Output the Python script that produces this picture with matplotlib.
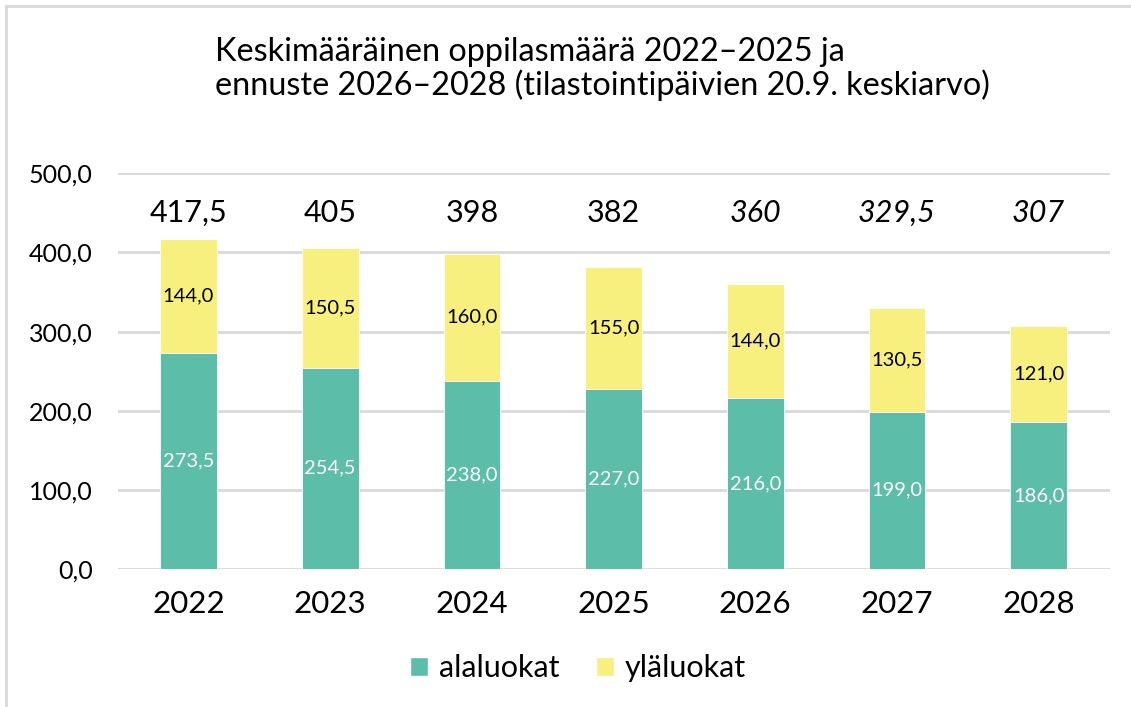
import matplotlib.pyplot as plt
from matplotlib.lines import Line2D
from matplotlib.patches import Patch

plt.rcParams['font.family'] = ['Lato', 'DejaVu Sans']

# Data
years = ['2022', '2023', '2024', '2025', '2026', '2027', '2028']
alaluokat = [273.5, 254.5, 238.0, 227.0, 216.0, 199.0, 186.0]
ylaluokat = [144.0, 150.5, 160.0, 155.0, 144.0, 130.5, 121.0]
forecast = [False, False, False, False, True, True, True]

teal = '#5CBDA8'
yellow = '#F8F07E'
grid_gray = '#D9D9D9'


def fi(v, dec=True):
    # Finnish number format with comma
    s = f"{v:.1f}" if dec else f"{v:g}"
    return s.replace('.', ',')


fig = plt.figure(figsize=(11.31, 7.07), dpi=100)
ax = fig.add_axes([0.104, 0.195, 0.877, 0.560])

x = range(len(years))
ax.bar(x, alaluokat, width=0.4, color=teal, edgecolor='white', linewidth=0.6, zorder=3)
ax.bar(x, ylaluokat, width=0.4, bottom=alaluokat, color=yellow, edgecolor='white',
       linewidth=0.6, zorder=3)

for i in x:
    ax.text(i, alaluokat[i] / 2, fi(alaluokat[i]), ha='center', va='center',
            fontsize=14.5, color='white', zorder=4)
    ax.text(i, alaluokat[i] + ylaluokat[i] / 2, fi(ylaluokat[i]), ha='center', va='center',
            fontsize=14.5, color='black', zorder=4)
    total = alaluokat[i] + ylaluokat[i]
    ax.text(i, 450, fi(total, dec=False), ha='center', va='center', fontsize=22,
            style='italic' if forecast[i] else 'normal', color='black', zorder=4)

ax.set_ylim(0, 500)
ax.set_xlim(-0.5, len(years) - 0.5)
ax.set_yticks([0, 100, 200, 300, 400, 500])
ax.set_yticklabels([fi(v) for v in [0, 100, 200, 300, 400, 500]], fontsize=18)
ax.set_xticks(list(x))
ax.set_xticklabels(years, fontsize=22.5)
ax.tick_params(axis='both', length=0)
ax.tick_params(axis='y', pad=18)
ax.tick_params(axis='x', pad=15)
ax.yaxis.grid(True, color=grid_gray, linewidth=2, zorder=0)
ax.set_axisbelow(True)
for s in ax.spines.values():
    s.set_visible(False)

fig.text(215 / 1131, 1 - 69 / 707,
         'Keskimääräinen oppilasmäärä 2022–2025 ja\nennuste 2026–2028 (tilastointipäivien 20.9. keskiarvo)',
         ha='left', va='center', fontsize=23.3, linespacing=1.12)

handles = [Patch(facecolor=teal, edgecolor='white'), Patch(facecolor=yellow, edgecolor='white')]
fig.legend(handles, ['alaluokat', 'yläluokat'], loc='center', bbox_to_anchor=(0.511, 1 - 668 / 707),
           ncol=2, frameon=False, fontsize=22, handlelength=0.6, handleheight=0.6,
           handletextpad=0.35, columnspacing=1.2)

# frame lines of the original screenshot
fig.add_artist(Line2D([6 / 1131, 6 / 1131], [0, 1 - 6 / 707], color=grid_gray, linewidth=2))
fig.add_artist(Line2D([6 / 1131, 1], [1 - 6 / 707, 1 - 6 / 707], color=grid_gray, linewidth=2))

fig.savefig('out.png', dpi=100)
